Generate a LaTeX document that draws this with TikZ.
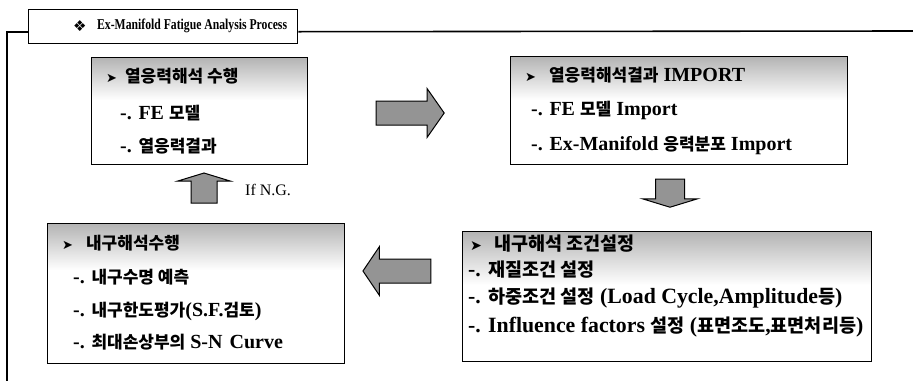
\documentclass[tikz,border=0pt]{standalone}
\usepackage{fontspec}
\setmainfont{Liberation Serif}
\newfontfamily\kr{Noto Sans CJK KR}
\newfontfamily\sym{DejaVu Sans}
\usetikzlibrary{shapes.arrows,calc}
\newcommand{\ko}[1]{{\kr\fontsize{17}{19}\selectfont #1}}
\newcommand{\bul}{{\sym\fontsize{13}{15}\selectfont ➤}}
\tikzset{
  panel/.style={draw=black, line width=1.1pt, anchor=north west, inner sep=0pt},
  hdshade/.style={top color=black!30, bottom color=white},
  hd/.style={anchor=west, inner sep=0pt, font=\bfseries\fontsize{20}{22}\selectfont},
  ln/.style={anchor=west, inner sep=0pt, font=\bfseries\fontsize{20}{22}\selectfont},
  wide/.style={scale=1.09, transform shape},
  blockarrow/.style={single arrow, draw=black, line width=1pt, fill=black!42, inner xsep=0pt},
  frame/.style={line width=1.6pt}
}
\begin{document}
\begin{tikzpicture}[x=1pt,y=-1pt]
\useasboundingbox (0,0) rectangle (913,381);
% title and frame:
\node[panel, line width=1.4pt, minimum width=269, minimum height=34] (title) at (28,9) {};
\node[anchor=west, inner sep=0pt, font=\sym\fontsize{15}{17}\selectfont] (titleS) at (73,26) {❖};
\node[anchor=west, inner sep=0pt, font=\bfseries\fontsize{15}{17}\selectfont,
  xscale=0.78, transform shape] (titleT) at (97,26) {Ex-Manifold Fatigue Analysis Process};
\coordinate (frameL) at ($(title.west)+(0,5)$);
\coordinate (frameR) at ($(title.east)+(0,5)$);
\draw[frame] (frameL) -| (7,381);
\draw[frame] (frameR) -- (913,31);
% header shading:
\shade[hdshade] (91,57) rectangle (307,100);
\shade[hdshade] (510,56) rectangle (847,100);
\shade[hdshade] (47,223) rectangle (344,270);
\shade[hdshade] (462,231) rectangle (871,285);
% boxes:
\node[panel, minimum width=216, minimum height=107] (heat) at (91,57) {};
\node[panel, minimum width=337, minimum height=108] (import) at (510,56) {};
\node[panel, minimum width=297, minimum height=140] (fatigue) at (47,223) {};
\node[panel, minimum width=409, minimum height=130] (cond) at (462,231) {};
% box texts:
\node[hd] (heatH) at (106,76) {\bul\hspace{8pt}\ko{열응력해석 수행}};
\node[ln] (heatA) at (120,113) {-. FE \ko{모델}};
\node[ln] (heatB) at (120,146) {-. \ko{열응력결과}};
\node[hd] (importH) at (525,75) {\bul\hspace{13pt}\ko{열응력해석결과} IMPORT};
\node[ln] (importA) at (531,110) {-. FE \ko{모델} Import};
\node[ln] (importB) at (531,145) {-. Ex-Manifold \ko{응력분포} Import};
\node[hd] (fatigueH) at (62,243) {\bul\hspace{13pt}\ko{내구해석수행}};
\node[ln] (fatigueA) at (73,277) {-. \ko{내구수명 예측}};
\node[ln] (fatigueB) at (73,311) {-. \ko{내구한도평가}(S.F.\ko{검토})};
\node[ln] (fatigueC) at (73,342) {-. \ko{최대손상부의} S-N\hspace{2pt} Curve};
\node[hd, wide] (condH) at (470,244) {\bul\hspace{11pt}\ko{내구해석 조건설정}};
\node[ln, wide] (condA) at (468,270) {-. \ko{재질조건 설정}};
\node[ln, wide] (condB) at (468,298) {-. \ko{하중조건 설정} (Load Cycle,Amplitude\ko{등})};
\node[ln, wide] (condC) at (468,327) {-. Influence factors \ko{설정} (\ko{표면조도},\ko{표면처리등})};
% block arrows:
\node[blockarrow, inner ysep=11.5, minimum height=68, single arrow head extend=12.5,
  single arrow tip angle=110] (toImport) at (406,113) {};
\node[blockarrow, inner ysep=14, minimum height=28, single arrow head extend=13,
  single arrow tip angle=146, rotate=270] (toCond) at (670,191) {};
\node[blockarrow, inner ysep=11.5, minimum height=68, single arrow head extend=12.5,
  single arrow tip angle=112, rotate=180] (toFatigue) at (401,271) {};
\node[blockarrow, inner ysep=12.5, minimum height=30, single arrow head extend=13.5,
  single arrow tip angle=146, rotate=90] (toHeat) at (204,190) {};
\node[anchor=west, inner sep=0pt, font=\fontsize{16}{18}\selectfont] (ng) at (245,190) {If N.G.};
\end{tikzpicture}
\end{document}
